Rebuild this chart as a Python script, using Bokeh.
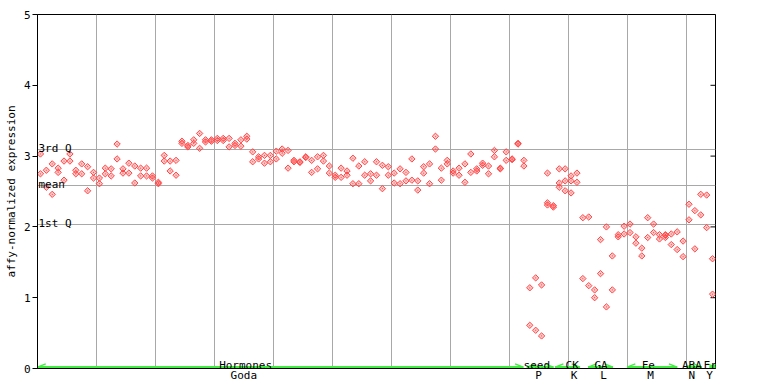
from bokeh.plotting import figure
from bokeh.models import Range1d, FixedTicker, ColumnDataSource
from bokeh.core.properties import value
from bokeh.embed import file_html
from bokeh.resources import INLINE

FONT = "DejaVu Sans Mono"

# ---- data: Hormones block, two replicates per condition slot ----
hormone_rep1 = [3.03, 2.80, 2.89, 2.83, 2.93, 3.03, 2.80, 2.89, 2.85, 2.77,
                2.69, 2.83, 2.82, 3.17, 2.82, 2.90, 2.86, 2.83, 2.83, 2.72,
                2.63, 3.01, 2.93, 2.94, 3.21, 3.15, 3.23, 3.32, 3.23, 3.23,
                3.25, 3.25, 3.25, 3.18, 3.23, 3.28, 3.06, 2.99, 3.01, 3.01,
                3.07, 3.10, 3.08, 2.94, 2.92, 2.99, 2.94, 2.99, 3.01, 2.86,
                2.73, 2.83, 2.79, 2.97, 2.86, 2.92, 2.75, 2.92, 2.87, 2.85,
                2.76, 2.82, 2.77, 2.96, 2.65, 2.85, 2.89, 3.28, 2.83, 2.94,
                2.79, 2.83, 2.89, 3.03, 2.82, 2.90, 2.86, 3.08, 2.83, 3.06,
                2.96, 3.18]
hormone_rep2 = [2.75, 2.56, 2.46, 2.77, 2.66, 2.93, 2.75, 2.75, 2.51, 2.69,
                2.61, 2.75, 2.72, 2.96, 2.76, 2.76, 2.62, 2.72, 2.72, 2.69,
                2.61, 2.93, 2.79, 2.73, 3.18, 3.13, 3.18, 3.11, 3.20, 3.21,
                3.22, 3.22, 3.13, 3.15, 3.14, 3.24, 2.92, 2.96, 2.90, 2.92,
                2.96, 3.04, 2.83, 2.92, 2.91, 2.98, 2.77, 2.82, 2.93, 2.76,
                2.70, 2.70, 2.73, 2.61, 2.61, 2.73, 2.65, 2.73, 2.54, 2.73,
                2.62, 2.61, 2.65, 2.66, 2.52, 2.76, 2.61, 3.10, 2.66, 2.89,
                2.76, 2.73, 2.63, 2.77, 2.79, 2.87, 2.75, 2.99, 2.82, 2.94,
                2.95, 3.17]

# ---- data: other treatments (slot index, value) ----
other_slot = [82, 82, 83, 83, 84, 84, 85, 85, 86, 86, 86, 87, 87,
              88, 88, 88, 89, 89, 89, 90, 90, 90, 91, 91, 92, 92, 93, 93,
              94, 94, 95, 95, 96, 96, 97, 97, 98, 98, 99, 99, 100, 100,
              101, 101, 102, 102, 103, 103, 104, 104, 105, 105, 106, 106, 106,
              107, 107, 108, 108, 109, 109, 110, 110, 111, 111, 112, 112,
              113, 113, 114, 114]
other_val = [2.94, 2.86, 1.14, 0.61, 1.28, 0.54, 1.18, 0.46, 2.76, 2.34, 2.31, 2.30, 2.28,
             2.82, 2.62, 2.56, 2.82, 2.65, 2.51, 2.72, 2.65, 2.48, 2.76, 2.63, 2.13, 1.27, 2.14, 1.17,
             1.11, 1.00, 1.82, 1.34, 2.00, 0.87, 1.59, 1.11, 1.89, 1.86, 2.01, 1.90, 2.04, 1.92,
             1.86, 1.77, 1.70, 1.59, 2.13, 1.85, 2.04, 1.92, 1.89, 1.83, 1.89, 1.88, 1.85,
             1.90, 1.75, 1.93, 1.68, 1.80, 1.58, 2.32, 2.10, 2.23, 1.69, 2.46, 2.17,
             2.45, 1.99, 1.55, 1.05]

# ---- summary lines ----
stat_names = ["3rd Q", "mean", "1st Q"]
stat_vals = [3.10, 2.59, 2.03]

# ---- category annotations ----
group_names = ["Hormones", "seed", "CK", "GA", "Fe", "ABA", "Fr"]
group_label_pos = [35.3, 84.7, 90.7, 95.6, 103.6, 111.0, 114.1]
group_start = [0.0, 83.0, 87.8, 93.4, 100.0, 110.0, 114.0]
group_end = [82.4, 87.5, 92.0, 97.6, 108.5, 112.7, 115.0]
source_names = ["Goda", "P", "K", "L", "M", "N", "Y"]
source_pos = [35, 85, 91, 96, 104, 111, 114]

y_ticks = [0, 1, 2, 3, 4, 5]
N_SLOTS = 115
grid_x = list(range(10, N_SLOTS, 10))

p = figure(width=760, height=384, output_backend="svg", toolbar_location=None,
           x_range=Range1d(0, N_SLOTS), y_range=Range1d(0, 5),
           min_border_left=37, min_border_top=14, min_border_right=45,
           min_border_bottom=15)
p.background_fill_color = "white"
p.border_fill_color = "white"
p.outline_line_color = "black"
p.outline_line_width = 1

# grids
p.xgrid.ticker = FixedTicker(ticks=grid_x)
p.ygrid.ticker = FixedTicker(ticks=stat_vals)
for g in (p.xgrid, p.ygrid):
    g.grid_line_color = "#a8a8a8"
    g.grid_line_width = 1

# y axis
ya = p.yaxis[0]
ya.ticker = FixedTicker(ticks=y_ticks)
ya.axis_label = "affy-normalized expression"
ya.axis_label_text_font = FONT
ya.axis_label_text_font_size = "11px"
ya.axis_label_text_font_style = "normal"
ya.axis_label_text_color = "black"
ya.axis_label_standoff = 3
ya.major_label_text_font = FONT
ya.major_label_text_font_size = "11px"
ya.major_label_text_color = "black"
ya.major_label_standoff = 2
ya.major_tick_out = 5
ya.major_tick_in = 0
ya.minor_tick_line_color = None
ya.axis_line_color = "black"
ya.major_tick_line_color = "black"

# x axis: source labels
xa = p.xaxis[0]
xa.ticker = FixedTicker(ticks=source_pos)
xa.major_label_overrides = {pos: name for pos, name in zip(source_pos, source_names)}
xa.major_label_text_font = FONT
xa.major_label_text_font_size = "11px"
xa.major_label_text_color = "black"
xa.major_label_standoff = 0
xa.major_tick_line_color = None
xa.major_tick_out = 0
xa.major_tick_in = 0
xa.minor_tick_line_color = None
xa.axis_line_color = "black"

# inward ticks on the right edge
p.scatter(x=[N_SLOTS] * len(y_ticks), y=y_ticks, marker="dash", size=10,
          line_color="black", line_width=1)

# points
hx = [i + 0.5 for i in range(len(hormone_rep1))]
pts_x = hx + hx + [s + 0.5 for s in other_slot]
pts_y = hormone_rep1 + hormone_rep2 + other_val
src = ColumnDataSource(dict(x=pts_x, y=pts_y))
p.scatter("x", "y", source=src, marker="square_dot", size=4.5, angle=0.785398,
          line_color="#ff4646", fill_color="#ff4646", fill_alpha=0.3, line_width=1)

# stat labels
p.text(x=[0] * 3, y=stat_vals, text=stat_names, x_offset=1, y_offset=-1,
       text_font=value(FONT), text_font_size="11px", text_color="black",
       text_baseline="alphabetic", text_align="left")

# green group lines with arrowheads (lifted slightly so they sit above the axis line)
LIFT = 0.02
GREEN = "#3fee3f"
p.segment(x0=group_start, y0=[LIFT] * len(group_start), x1=group_end,
          y1=[LIFT] * len(group_end), line_color=GREEN, line_width=2)
ah = 1.4
dy = 0.045
ax0, ay0, ax1, ay1 = [], [], [], []
for s, e in zip(group_start, group_end):
    for sgn in (1, -1):
        ax0 += [s, e]
        ay0 += [LIFT, LIFT]
        ax1 += [s + ah, e - ah]
        ay1 += [LIFT + sgn * dy, LIFT + sgn * dy]
p.segment(x0=ax0, y0=ay0, x1=ax1, y1=ay1, line_color=GREEN, line_width=1.5)

p.text(x=group_label_pos, y=[0] * len(group_names), text=group_names,
       y_offset=-3, text_font=value(FONT), text_font_size="11px",
       text_color="black", text_baseline="alphabetic", text_align="center")

open("out.html", "w").write(file_html(p, INLINE))
